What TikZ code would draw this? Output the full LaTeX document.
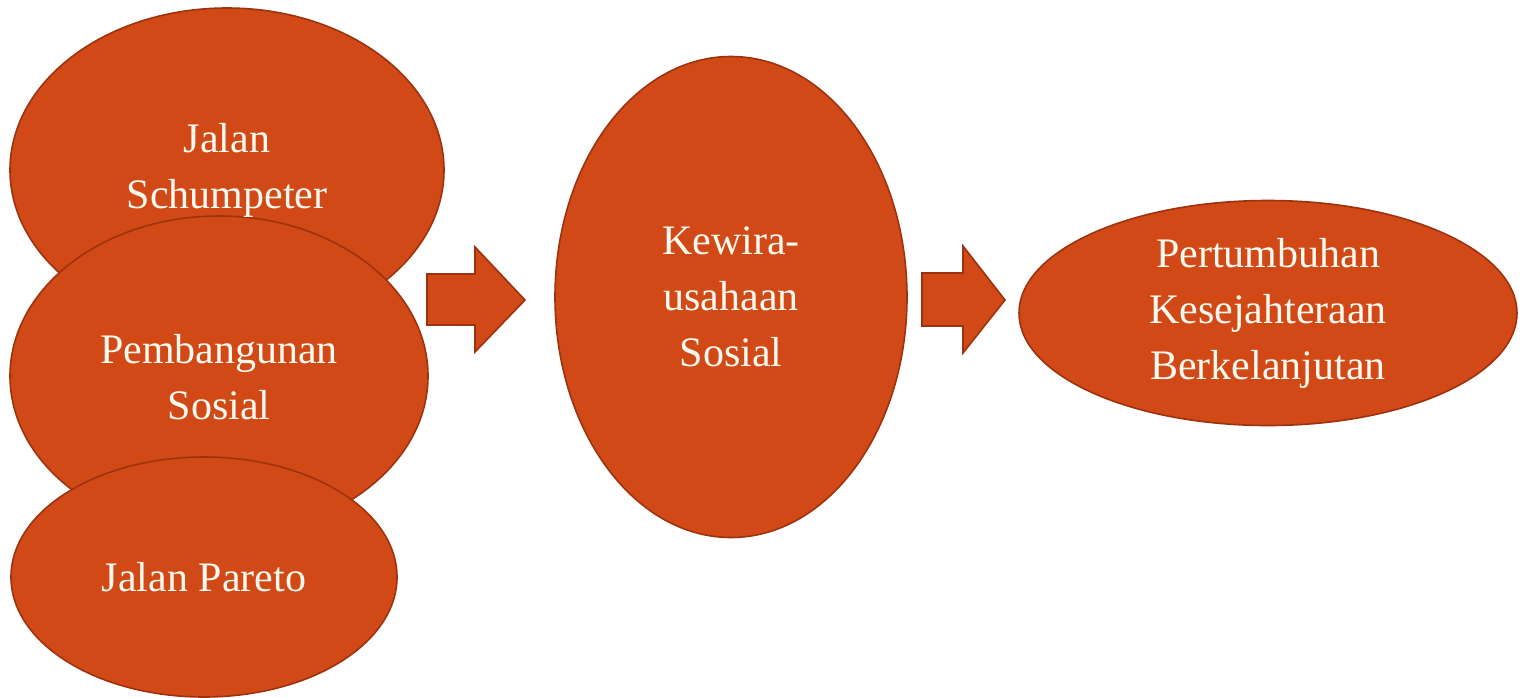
\documentclass[tikz,border=0pt]{standalone}
\usepackage{fontspec}
\setmainfont{Liberation Serif}
\usetikzlibrary{shapes.geometric}
\definecolor{boxfill}{RGB}{208,73,23}
\definecolor{boxline}{RGB}{158,50,14}
\definecolor{txt}{RGB}{255,250,240}
\tikzset{
  labeltext/.style={text=txt, align=center, font=\fontsize{42}{56}\selectfont},
  oval/.style={ellipse, draw=boxline, fill=boxfill, line width=1.6pt, inner sep=0pt, labeltext},
  blockarrow/.style={draw=boxline, fill=boxfill, line width=1.6pt, line join=miter}
}
\begin{document}
\begin{tikzpicture}[x=1pt,y=-1pt]
\useasboundingbox (0,0) rectangle (1523,697);
\node[oval, minimum width=434pt, minimum height=324pt] (schum) at (227,170) {};
\node[oval, minimum width=418pt, minimum height=320pt] (pemb) at (219,376) {};
\node[oval, minimum width=386pt, minimum height=240pt] (pareto) at (204,577) {Jalan Pareto};
\node[labeltext] (schumtxt) at (227,170) {Jalan\\Schumpeter};
\node[labeltext] (pembtxt) at (219,377) {Pembangunan\\Sosial};
\node[oval, minimum width=352pt, minimum height=481pt] (kewira) at (731,297) {Kewira-\\usahaan\\Sosial};
\node[oval, minimum width=498pt, minimum height=225pt] (tumbuh) at (1268,313) {Pertumbuhan\\Kesejahteraan\\Berkelanjutan};
\draw[blockarrow] (427,274) -- (475,274) -- (475,247) -- (525,300) -- (475,352) -- (475,325) -- (427,325) -- cycle;
\draw[blockarrow] (922,273) -- (963,273) -- (963,246) -- (1005,300) -- (963,353) -- (963,326) -- (922,326) -- cycle;
\end{tikzpicture}
\end{document}
